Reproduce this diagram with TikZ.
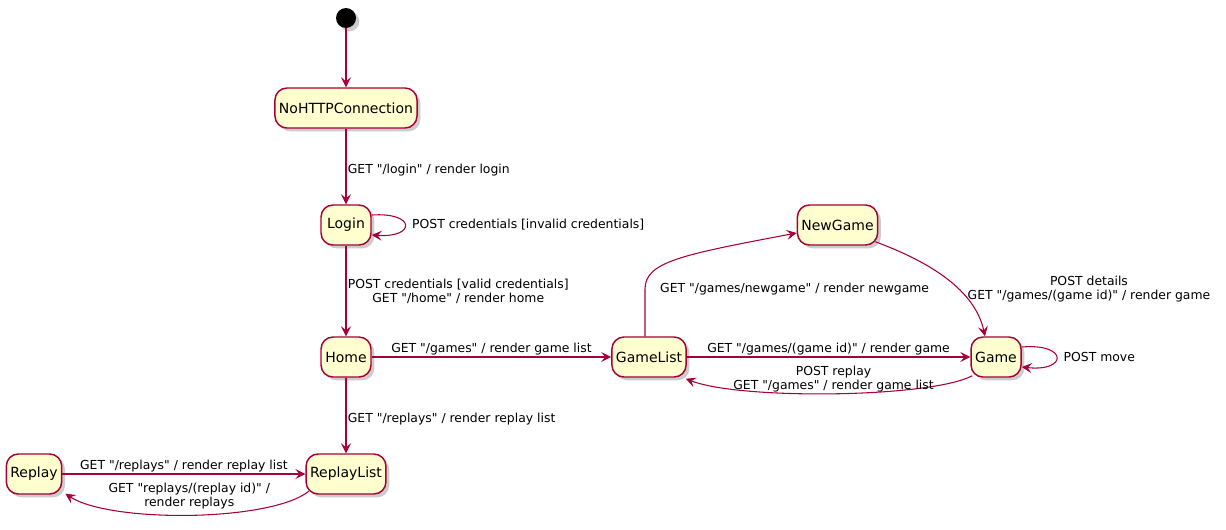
\documentclass[tikz,border=0pt]{standalone}
\usepackage{fontspec}
\setmainfont{DejaVu Sans}[Ligatures=TeXOff]
\usepackage{tikz}
\usetikzlibrary{arrows.meta, shadows, calc, positioning}

\definecolor{umlborder}{HTML}{A80036}
\definecolor{umlfill}{HTML}{FEFECE}

\tikzset{
  statebox/.style={draw=umlborder, fill=umlfill, line width=1.1pt, rounded corners=9pt,
    minimum height=30pt, minimum width=37.5pt, inner xsep=3pt,
    font=\fontsize{10.5}{12.6}\selectfont,
    drop shadow={shadow xshift=2.5pt, shadow yshift=-2.5pt, opacity=0.4}},
  trans/.style={draw=umlborder, line width=0.8pt, -{Stealth[length=7.5pt, width=7.5pt, inset=3pt]}},
  lbl/.style={font=\fontsize{9.3}{10.5}\selectfont, inner sep=1pt, align=center},
}

\begin{document}
\begin{tikzpicture}[x=0.75pt, y=-0.75pt]
          \useasboundingbox (0,0) rectangle (1226,529);
          \node [circle, fill=black, minimum size=15pt, inner sep=0pt,
            drop shadow={shadow xshift=2.5pt, shadow yshift=-2.5pt, opacity=0.4}] (start) at (346, 18) {};
          \node [statebox] (NoHTTP) at (346, 108) {NoHTTPConnection};
          \node [statebox] (Login) at (346, 225) {Login};
          \node [statebox] (Home) at (346, 357) {Home};
          \node [statebox] (ReplayList) at (346, 474) {ReplayList};
          \node [statebox] (Replay) at (34, 474) {Replay};
          \node [statebox] (GameList) at (649, 357) {GameList};
          \node [statebox] (NewGame) at (837.5, 225) {NewGame};
          \node [statebox] (Game) at (996, 357) {Game};
          % left column
          \draw [trans] (start) -- (NoHTTP);
          \draw [trans] (NoHTTP) -- node[lbl, right, pos=0.55] (lLogin) {GET "/login" / render login} (Login);
          \draw [trans] ($(Login.east)+(0,-10)$) .. controls (416, 212) and (416, 238) .. ($(Login.east)+(0,10)$)
            node[lbl, pos=0.5, right=4pt] (lInvalid) {POST credentials [invalid credentials]};
          \draw [trans] (Login) -- node[lbl, right] (lValid) {POST credentials [valid credentials]\\GET "/home" / render home} (Home);
          \draw [trans] (Home) -- node[lbl, right, pos=0.55] (lReplays) {GET "/replays" / render replay list} (ReplayList);
          % replays
          \draw [trans] (Replay) -- node[lbl, above] (lReplayList) {GET "/replays" / render replay list} (ReplayList);
          \draw [trans] ($(ReplayList.south west)+(3.5,-3.5)$) .. controls (270, 522) and (110, 523) .. ($(Replay.south east)+(3,-1)$)
            node[lbl, pos=0.5, above=3pt] (lReplay) {GET "replays/(replay id)" /\\render replays};
          % games
          \draw [trans] (Home) -- node[lbl, above] (lGameList) {GET "/games" / render game list} (GameList);
          \draw [trans] (GameList) -- node[lbl, above] (lGame) {GET "/games/(game id)" / render game} (Game);
          \draw [trans] ($(Game.south west)+(2,-2)$) .. controls (930, 398) and (740, 400) .. ($(GameList.south east)+(-1,1)$)
            node[lbl, pos=0.5, above] (lBack) {POST replay\\GET "/games" / render game list};
          \draw [trans] ($(GameList.north)+(-4,0)$) -- ++(0,-47) node[lbl, right=10pt] (lNew) {GET "/games/newgame" / render newgame}
            .. controls (645, 262) and (680, 255) .. ($(NewGame.west)+(0,8)$);
          \draw [trans] ($(NewGame.south east)+(-3,-4)$) .. controls (930, 262) and (975, 290) .. ($(Game.north)+(-11,0)$)
            node[lbl, pos=0.6, right=6pt] (lDetails) {POST details\\GET "/games/(game id)" / render game};
          \draw [trans] ($(Game.east)+(0,-10)$) .. controls (1068, 343) and (1068, 372) .. ($(Game.east)+(0,10)$)
            node[lbl, pos=0.5, right=4pt] (lMove) {POST move};
        \end{tikzpicture}
\end{document}
